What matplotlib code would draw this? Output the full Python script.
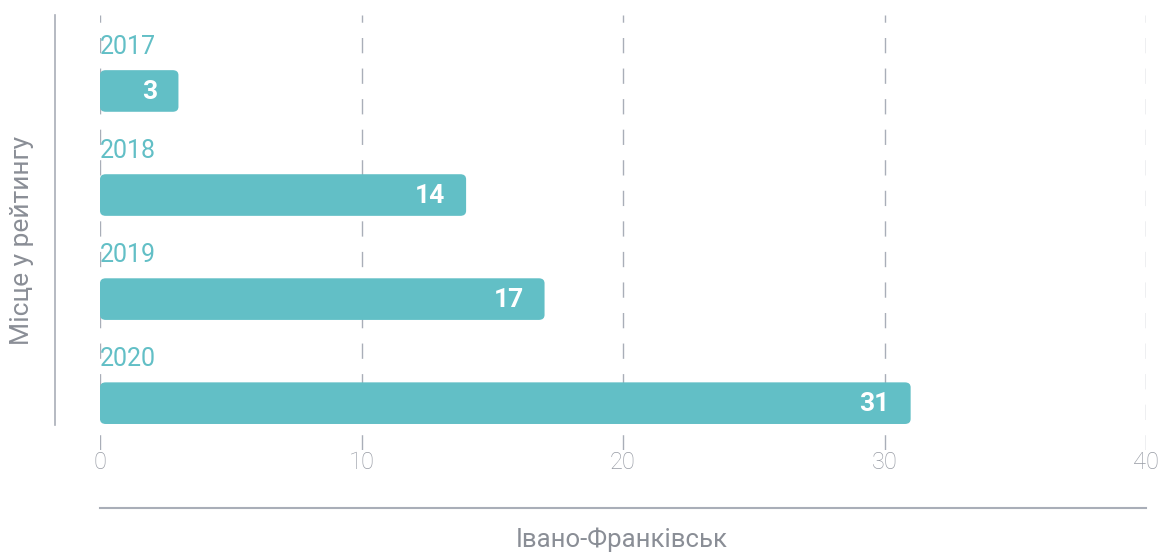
import matplotlib.pyplot as plt
from matplotlib.patches import FancyBboxPatch
from matplotlib.lines import Line2D

years = ["2017", "2018", "2019", "2020"]
places = [3, 14, 17, 31]
xticks = [0, 10, 20, 30, 40]
city = "Івано-Франківськ"
ylabel = "Місце у рейтингу"

teal = "#62bfc6"
grey_txt = "#979ba4"
grey_line = "#a9aeb8"

plt.rcParams['font.family'] = ['Roboto', 'DejaVu Sans']

fig = plt.figure(figsize=(11.6, 5.52), dpi=100)
ax = fig.add_axes([100 / 1160, 1 - 450 / 552, 1046 / 1160, 435 / 552])

ax.set_xlim(0, 40)
ax.set_ylim(3.45, -0.73)

bars = ax.barh(range(len(years)), places, height=0.40, color=teal)
for b in bars:
    x0, y0 = b.get_x(), b.get_y()
    w, h = b.get_width(), b.get_height()
    b.set_visible(False)
    ax.add_patch(FancyBboxPatch((x0, y0), w, h,
                                boxstyle="round,pad=0,rounding_size=0.22",
                                mutation_aspect=0.22, fc=teal, ec="none", zorder=3))

for i, (yr, v) in enumerate(zip(years, places)):
    ax.text(0, i - 0.42, yr, color=teal, fontsize=18, va="center", ha="left", zorder=4)
    ax.text(v - 0.8, i + 0.01, str(v), color="white", fontsize=19, fontweight="bold",
            va="center", ha="right", zorder=4)

ax.set_xticks(xticks)
ax.set_xticklabels([str(t) for t in xticks], color=grey_txt, fontsize=17, fontweight="light")
ax.tick_params(axis="x", length=0, pad=1)
ax.set_yticks([])
ax.grid(axis="x", color=grey_line, linestyle=(0, (11, 11)), linewidth=1.0)
ax.set_axisbelow(True)
for s in ax.spines.values():
    s.set_visible(False)

# left vertical rule and bottom rule
fig.add_artist(Line2D([55 / 1160, 55 / 1160], [1 - 15 / 552, 1 - 425 / 552],
                      color=grey_line, linewidth=1.2))
fig.add_artist(Line2D([100 / 1160, 1146 / 1160], [1 - 508 / 552, 1 - 508 / 552],
                      color=grey_line, linewidth=1.5))

fig.text(22 / 1160, 1 - 240 / 552, ylabel, rotation=90, color="#8a8e96",
         fontsize=19, ha="center", va="center")
fig.text(622 / 1160, 1 - 540 / 552, city, color="#8a8e96", fontsize=18.5,
         ha="center", va="center")

fig.savefig("out.png", dpi=100)
